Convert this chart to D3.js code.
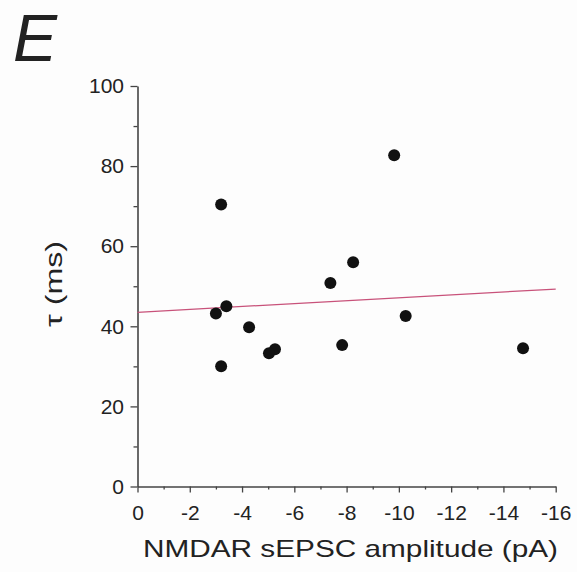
<!DOCTYPE html>
<html>
<head>
    <title>NMDAR sEPSC amplitude vs tau</title>
    <script src="https://d3js.org/d3.v7.min.js"></script>
    <style>
        body { margin: 0; background: #fdfdfd; }
        text { font-family: "Liberation Sans", Arial, sans-serif; fill: #222; }
    </style>
</head>
<body>
    <svg class="scatter" width="577" height="572"></svg>

    <script>
// dados
const amplitude = [-9.82, -3.20, -8.25, -7.38, -3.40, -3.00, -10.26, -4.27, -7.83, -5.26, -5.03, -3.20, -14.75];
const tau = [82.7, 70.4, 56.0, 50.8, 45.0, 43.2, 42.6, 39.75, 35.3, 34.25, 33.25, 30.0, 34.5];
const xTicks = [0, -2, -4, -6, -8, -10, -12, -14, -16];
const xMinor = [-1, -3, -5, -7, -9, -11, -13, -15];
const yTicks = [0, 20, 40, 60, 80, 100];
const yMinor = [10, 30, 50, 70, 90];
// reta de ajuste (extremos)
const fitX = [0, -16];
const fitY = [43.5, 49.3];

function plotarGrafico() {
    const svg = d3.select('.scatter');
    const margin = { top: 86, left: 137.5 };
    const width = 555.7 - margin.left;
    const height = 486.5 - margin.top;
    const g = svg.append('g').attr('transform', `translate(${margin.left},${margin.top})`);

    const x = d3.scaleLinear().domain([0, -16]).range([0, width]);
    const y = d3.scaleLinear().domain([0, 100]).range([height, 0]);

    // eixo x
    const gx = g.append('g')
        .attr('transform', `translate(0,${height})`)
        .call(d3.axisBottom(x).tickValues(xTicks).tickSize(6).tickPadding(13).tickSizeOuter(0));
    g.append('g')
        .attr('transform', `translate(0,${height})`)
        .call(d3.axisBottom(x).tickValues(xMinor).tickSize(3).tickFormat(''))
        .select('.domain').remove();
    gx.selectAll('.tick text').text(d => d === 0 ? '0' : '-' + Math.abs(d));

    // eixo y
    const gy = g.append('g')
        .call(d3.axisLeft(y).tickValues(yTicks).tickSize(7).tickPadding(6.5).tickSizeOuter(0));
    g.append('g')
        .call(d3.axisLeft(y).tickValues(yMinor).tickSize(4).tickFormat(''))
        .select('.domain').remove();

    g.selectAll('.domain').attr('stroke', '#444').attr('stroke-width', 1.6);
    g.selectAll('.tick line').attr('stroke', '#444').attr('stroke-width', 1.3);
    g.selectAll('.tick text').style('font-size', '21px').attr('fill', '#222');

    // reta
    g.append('line')
        .attr('x1', x(fitX[0])).attr('y1', y(fitY[0]))
        .attr('x2', x(fitX[1])).attr('y2', y(fitY[1]))
        .attr('stroke', '#c8527a').attr('stroke-width', 1.2);

    // pontos
    g.selectAll('.dot')
        .data(amplitude.map((a, i) => ({ a: a, t: tau[i] })))
        .enter().append('circle')
        .attr('class', 'dot')
        .attr('cx', d => x(d.a))
        .attr('cy', d => y(d.t))
        .attr('r', 6)
        .attr('fill', '#111');

    // rótulos
    svg.append('text')
        .attr('x', 143).attr('y', 557)
        .attr('textLength', 415).attr('lengthAdjust', 'spacingAndGlyphs')
        .style('font-size', '24px')
        .text('NMDAR sEPSC amplitude (pA)');

    svg.append('text')
        .attr('transform', 'translate(62,284) rotate(-90)')
        .attr('text-anchor', 'middle')
        .attr('textLength', 86).attr('lengthAdjust', 'spacingAndGlyphs')
        .style('font-size', '24px')
        .text('τ (ms)');

    svg.append('text')
        .attr('x', 13).attr('y', 61)
        .style('font-size', '66px')
        .style('font-style', 'italic')
        .text('E');
}

plotarGrafico();
    </script>
</body>
</html>
